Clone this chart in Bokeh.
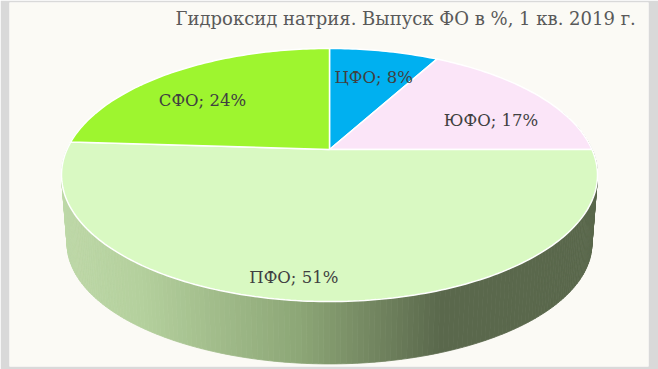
import numpy as np
from bokeh.plotting import figure
from bokeh.models import Range1d, Label
from bokeh.embed import file_html
from bokeh.resources import INLINE

# ---- data ----
regions = ["ЦФО", "ЮФО", "ПФО", "СФО"]
shares = [8, 17, 51, 24]
colors = ["#00B0F0", "#FBE5F8", "#D9F9C2", "#9EF52F"]
title_text = "Гидроксид натрия. Выпуск ФО в %,  1 кв. 2019 г."

# ---- style / geometry ----
W, H = 658, 369
CX = 329.0
TOP = dict(A=262.5, B=121.4, cy=149.0)
BOT = dict(A=257.0, B=115.3, cy=219.0)
PB = 0.2016  # perspective factor
FONT = "DejaVu Serif"
TXT = "#404040"


def proj(theta_deg, r, face):
    t = np.radians(theta_deg)
    u = r * np.sin(t)
    v = r * np.cos(t)
    d = 1.0 + PB * v
    return CX + face["A"] * u / d, face["cy"] - face["B"] * v / d


p = figure(width=W, height=H, output_backend="svg", toolbar_location=None,
           x_range=Range1d(9, 648), y_range=Range1d(366, 2),
           min_border_left=9, min_border_right=10, min_border_top=2, min_border_bottom=3)
p.axis.visible = False
p.grid.visible = False
p.outline_line_color = None
p.border_fill_color = "#D9D9D9"
p.background_fill_color = "#FBFAF5"

# side (front rim) drawn as thin quads with a horizontal gradient
stops_x = [60, 140, 300, 440, 620]
stops_c = np.array([[190, 216, 168], [180, 208, 157], [140, 166, 118], [90, 104, 76], [90, 104, 76]])

xs_side, ys_side, cols_side = [], [], []
for th in np.arange(70, 290, 1.0):
    x1, y1 = proj(th, 1, TOP)
    x2, y2 = proj(th + 1, 1, TOP)
    x3, y3 = proj(th + 1, 1, BOT)
    x4, y4 = proj(th, 1, BOT)
    xm = (x1 + x2 + x3 + x4) / 4
    c = [int(round(np.interp(xm, stops_x, stops_c[:, k]))) for k in range(3)]
    xs_side.append([x1, x2, x3, x4])
    ys_side.append([y1, y2, y3, y4])
    cols_side.append("#%02x%02x%02x" % tuple(c))
p.patches(xs_side, ys_side, fill_color=cols_side, line_color=cols_side, line_width=0.8)

# top face slices
total = float(sum(shares))
start = 0.0
xs_top, ys_top, mids = [], [], []
for s in shares:
    end = start + 360.0 * s / total
    angs = np.linspace(start, end, max(int(end - start) + 2, 3))
    ax, ay = proj(angs, 1, TOP)
    xs_top.append([CX] + list(ax))
    ys_top.append([TOP["cy"]] + list(ay))
    mids.append((start + end) / 2)
    start = end
p.patches(xs_top, ys_top, fill_color=colors, line_color="white", line_width=1.5)

# labels
lab_r = [0.70, 0.72, 0.87, 0.60]
lab_dx = [4, 10, -27, -28]
lab_dy = [0, 12, 0, 0]
for name, s, m, r, dx, dy in zip(regions, shares, mids, lab_r, lab_dx, lab_dy):
    lx, ly = proj(m, r, TOP)
    p.add_layout(Label(x=float(lx) + dx, y=float(ly) + dy, text=f"{name}; {s}%",
                       text_font=FONT, text_font_size="16.5px", text_color=TXT,
                       text_align="center", text_baseline="middle"))

p.add_layout(Label(x=641, y=18, text=title_text, text_font=FONT, text_font_size="18px",
                   text_color="#595959", text_align="right", text_baseline="middle"))

open("out.html", "w").write(file_html(p, INLINE))
